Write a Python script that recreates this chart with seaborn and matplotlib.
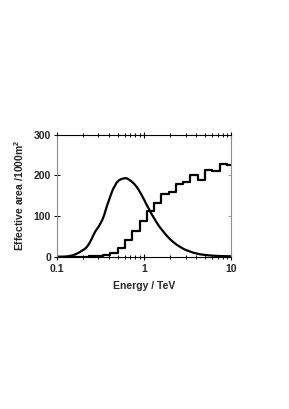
import numpy as np
import pandas as pd
import matplotlib
matplotlib.use("Agg")
import matplotlib.pyplot as plt
import seaborn as sns
from matplotlib.ticker import LogLocator, NullFormatter, FixedLocator

# Style
sns.set_theme(style="white")
plt.rcParams['font.family'] = ['Liberation Sans', 'DejaVu Sans']
plt.rcParams['font.weight'] = 'bold'
plt.rcParams['mathtext.fontset'] = 'custom'
plt.rcParams['mathtext.rm'] = 'Liberation Sans:bold'
plt.rcParams['mathtext.bf'] = 'Liberation Sans:bold'

# Differential rate curve
curve_energy = [0.1, 0.12, 0.135, 0.15, 0.165, 0.18, 0.196, 0.21, 0.224, 0.237,
                0.251, 0.265, 0.279, 0.292, 0.305, 0.318, 0.333, 0.35, 0.365, 0.38,
                0.398, 0.418, 0.435, 0.45, 0.465, 0.48, 0.497, 0.52, 0.543, 0.575,
                0.61, 0.645, 0.678, 0.72, 0.773, 0.83, 0.883, 0.94, 1.0, 1.07,
                1.15, 1.23, 1.32, 1.41, 1.5, 1.65, 1.8, 1.95, 2.14, 2.35,
                2.56, 2.8, 3.05, 3.35, 3.65, 4.0, 4.35, 5.0, 5.7, 6.5, 7.4, 8.6, 10.0]
curve_value = [0, 0, 1, 3, 6, 10, 15, 19, 25, 33,
               43, 54, 63, 69, 75, 82, 90, 102, 115, 127,
               139, 152, 162, 169, 174, 180, 184, 188, 190, 192,
               193, 192, 189, 185, 179, 171, 162, 152, 141, 128,
               116, 104, 93, 83, 74, 63, 53, 45, 37, 30,
               25, 20, 16, 13, 10, 8, 6, 4.3, 3, 2.2, 1.5, 1.2, 1]

# Effective area histogram (bin edges in TeV, heights in 1000 m^2)
bin_edges = [0.108, 0.131, 0.158, 0.192, 0.233, 0.282, 0.342, 0.414, 0.501, 0.607,
             0.736, 0.891, 1.08, 1.31, 1.585, 1.92, 2.33, 2.82, 3.41, 4.14,
             5.01, 6.07, 7.36, 8.91, 10.8]
area = [0, 0, 0, 0, 0.5, 1.5, 3.5, 8, 22, 41,
        63, 87, 112, 133, 154, 160, 178, 184, 201, 188,
        212, 210, 228, 225]

df_curve = pd.DataFrame({'energy': curve_energy, 'value': curve_value})
df_hist = pd.DataFrame({'energy': bin_edges, 'area': area + [area[-1]]})

fig = plt.figure(figsize=(2.89, 4.09), dpi=100)
ax = fig.add_axes([0.196, 0.3724, 0.604, 0.2985])
ax.set_xscale('log')

sns.lineplot(data=df_curve, x='energy', y='value', ax=ax, color='black',
             lw=1.6, sort=False, estimator=None)
sns.lineplot(data=df_hist, x='energy', y='area', ax=ax, color='black',
             lw=1.6, sort=False, estimator=None, drawstyle='steps-post')

ax.set_xlim(0.1, 10)
ax.set_ylim(0, 300)
ax.set_xticks([0.1, 1, 10])
ax.set_xticklabels(['0.1', '1', '10'])
ax.xaxis.set_minor_locator(LogLocator(base=10, subs=np.arange(2, 10)))
ax.xaxis.set_minor_formatter(NullFormatter())
ax.set_yticks([0, 100, 200, 300])

fs = 7.5
ax.tick_params(axis='x', which='major', direction='inout', top=True, bottom=True,
               length=5, width=0.8, color='black', labelsize=fs, pad=3)
ax.tick_params(axis='x', which='minor', direction='inout', top=True, bottom=True,
               length=3.5, width=0.7, color='black')
ax.tick_params(axis='y', which='major', direction='inout', left=True, right=False,
               length=4, width=0.7, color='black', labelsize=fs, pad=2)

# grey inward ticks on the right side
sec = ax.secondary_yaxis('right')
sec.yaxis.set_major_locator(FixedLocator([100, 200]))
sec.tick_params(direction='in', length=2.5, width=0.7, color='#999999', labelright=False)
sec.spines['right'].set_visible(False)

for side in ['left', 'right']:
    ax.spines[side].set_color('#8c8c8c')
    ax.spines[side].set_linewidth(0.8)
for side in ['top', 'bottom']:
    ax.spines[side].set_color('black')
    ax.spines[side].set_linewidth(0.8)

ax.set_xlabel('Energy / TeV', fontsize=fs, fontweight='bold', labelpad=5)
ax.set_ylabel('Effective area /1000m$^{2}$', fontsize=fs, fontweight='bold', labelpad=6)

fig.savefig('out.png', dpi=100, facecolor='white')
